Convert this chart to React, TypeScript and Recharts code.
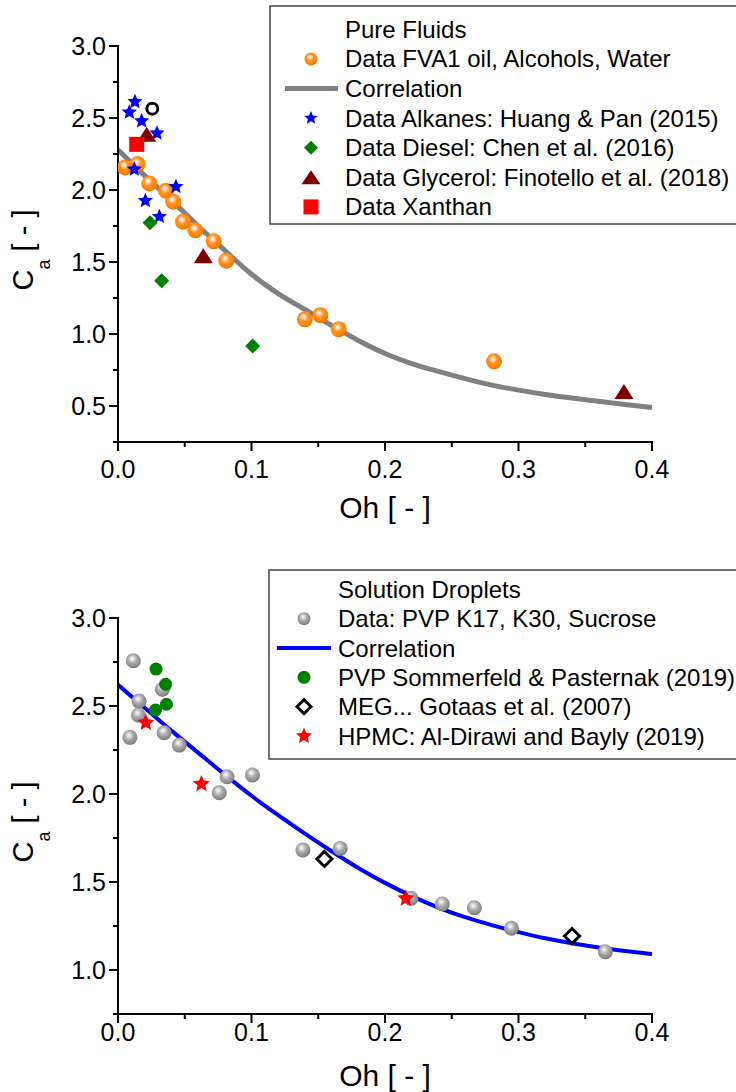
import React from 'react';
import { ComposedChart, Scatter, Line, XAxis, YAxis } from 'recharts';

const FONT = '"Liberation Sans", Arial, Helvetica, sans-serif';

// ---------------- Top panel: Pure fluids ----------------
const fvaOh = [0.0052, 0.0147, 0.0235, 0.036, 0.0414, 0.0487, 0.0579, 0.0717, 0.0811, 0.14, 0.1516, 0.1653, 0.2817];
const fvaCa = [2.157, 2.18, 2.046, 1.995, 1.919, 1.78, 1.72, 1.644, 1.509, 1.102, 1.13, 1.033, 0.81];
const alkOh = [0.0127, 0.0085, 0.0177, 0.0292, 0.0122, 0.0434, 0.0205, 0.031];
const alkCa = [2.613, 2.54, 2.479, 2.394, 2.144, 2.023, 1.926, 1.815];
const dieselOh = [0.024, 0.0327, 0.1009];
const dieselCa = [1.773, 1.37, 0.917];
const glyOh = [0.0215, 0.0639, 0.379];
const glyCa = [2.387, 1.544, 0.6];
const xanOh = [0.014];
const xanCa = [2.317];
const otherOh = [0.0257];
const otherCa = [2.565];
const corrTopOh = [0, 0.02, 0.04, 0.06, 0.08, 0.1, 0.12, 0.14, 0.16, 0.18, 0.2, 0.22, 0.24, 0.26, 0.28, 0.3, 0.32, 0.34, 0.36, 0.38, 0.4];
const corrTopCa = [2.28, 2.1, 1.93, 1.75, 1.58, 1.415, 1.28, 1.17, 1.06, 0.955, 0.865, 0.795, 0.74, 0.69, 0.645, 0.61, 0.58, 0.555, 0.533, 0.51, 0.49];

// ---------------- Bottom panel: Solution droplets ----------------
const pvpOh = [0.0115, 0.0332, 0.0158, 0.0153, 0.0089, 0.0345, 0.0459, 0.0817, 0.0758, 0.1007, 0.1385, 0.1664, 0.2194, 0.2429, 0.2669, 0.2947, 0.365];
const pvpCa = [2.757, 2.595, 2.528, 2.449, 2.322, 2.348, 2.278, 2.098, 2.007, 2.108, 1.682, 1.691, 1.407, 1.375, 1.354, 1.237, 1.104];
const sommOh = [0.0285, 0.0357, 0.0363, 0.0281];
const sommCa = [2.71, 2.623, 2.51, 2.477];
const megOh = [0.1546, 0.3401];
const megCa = [1.631, 1.193];
const hpmcOh = [0.0209, 0.0625, 0.2156];
const hpmcCa = [2.405, 2.057, 1.407];
const corrBotOh = [0, 0.02, 0.04, 0.06, 0.08, 0.1, 0.12, 0.14, 0.16, 0.18, 0.2, 0.22, 0.24, 0.26, 0.28, 0.3, 0.32, 0.34, 0.36, 0.38, 0.4];
const corrBotCa = [2.62, 2.49, 2.36, 2.235, 2.11, 1.99, 1.88, 1.775, 1.675, 1.58, 1.495, 1.42, 1.355, 1.3, 1.255, 1.215, 1.18, 1.152, 1.128, 1.108, 1.09];

// ---------------- Ticks and labels ----------------
const xTicks = [0, 0.05, 0.1, 0.15, 0.2, 0.25, 0.3, 0.35, 0.4];
const xMajor = [0, 0.1, 0.2, 0.3, 0.4];
const topYTicks = [0.25, 0.5, 0.75, 1.0, 1.25, 1.5, 1.75, 2.0, 2.25, 2.5, 2.75, 3.0];
const topYMajor = [0.5, 1.0, 1.5, 2.0, 2.5, 3.0];
const botYTicks = [0.75, 1.0, 1.25, 1.5, 1.75, 2.0, 2.25, 2.5, 2.75, 3.0];
const botYMajor = [1.0, 1.5, 2.0, 2.5, 3.0];
const topLegendLabels = ['Pure Fluids', 'Data FVA1 oil, Alcohols, Water', 'Correlation', 'Data Alkanes: Huang & Pan (2015)', 'Data Diesel: Chen et al. (2016)', 'Data Glycerol: Finotello et al. (2018)', 'Data Xanthan'];
const botLegendLabels = ['Solution Droplets', 'Data: PVP K17, K30, Sucrose', 'Correlation', 'PVP Sommerfeld & Pasternak (2019)', 'MEG... Gotaas et al. (2007)', 'HPMC: Al-Dirawi and Bayly (2019)'];
const xTitle = 'Oh [ - ]';

const zip = (xs: number[], ys: number[]) => xs.map((x, i) => ({ x, y: ys[i] }));
const isIn = (v: number, arr: number[]) => arr.some((m) => Math.abs(m - v) < 1e-9);

// ---------------- Marker shapes ----------------
const starPoints = (cx: number, cy: number, R: number) => {
  const r = R * 0.46;
  const pts: string[] = [];
  for (let i = 0; i < 10; i++) {
    const rad = i % 2 === 0 ? R : r;
    const a = -Math.PI / 2 + (i * Math.PI) / 5;
    pts.push(`${cx + rad * Math.cos(a)},${cy + rad * Math.sin(a)}`);
  }
  return pts.join(' ');
};
const Ball = ({ cx, cy, r, grad }: any) => <circle cx={cx} cy={cy} r={r} fill={`url(#${grad})`} />;
const Star = ({ cx, cy, R, fill }: any) => <polygon points={starPoints(cx, cy, R)} fill={fill} />;
const Diamond = ({ cx, cy, h, fill, stroke, sw }: any) => (
  <polygon points={`${cx},${cy - h} ${cx + h},${cy} ${cx},${cy + h} ${cx - h},${cy}`} fill={fill} stroke={stroke || 'none'} strokeWidth={sw || 0} strokeLinejoin="miter" />
);
const Tri = ({ cx, cy, w, h, fill }: any) => (
  <polygon points={`${cx},${cy - h / 2} ${cx + w / 2},${cy + h / 2} ${cx - w / 2},${cy + h / 2}`} fill={fill} />
);
const Square = ({ cx, cy, s, fill }: any) => <rect x={cx - s / 2} y={cy - s / 2} width={s} height={s} fill={fill} />;

// ---------------- Axis ticks ----------------
const tickText = { fontSize: 25, fontFamily: FONT, fill: '#000' };
const makeBottomTick = (labelDy: number) => (p: any) => {
  const v = p.payload.value;
  const major = isIn(v, xMajor);
  return (
    <g>
      <line x1={p.x} x2={p.x} y1={p.y} y2={p.y + (major ? 9 : 5)} stroke="#000" strokeWidth={2} />
      {major && (
        <text x={p.x} y={p.y + labelDy} textAnchor="middle" {...tickText}>
          {v.toFixed(1)}
        </text>
      )}
    </g>
  );
};
const topTick = (p: any) => (
  <line x1={p.x} x2={p.x} y1={p.y} y2={p.y + 7} stroke="#000" strokeWidth={2} />
);
const makeLeftTick = (majors: number[]) => (p: any) => {
  const v = p.payload.value;
  const major = isIn(v, majors);
  return (
    <g>
      <line x1={p.x - (major ? 9 : 5)} x2={p.x} y1={p.y} y2={p.y} stroke="#000" strokeWidth={2} />
      {major && (
        <text x={p.x - 12} y={p.y + 9} textAnchor="end" {...tickText}>
          {v.toFixed(1)}
        </text>
      )}
    </g>
  );
};
const rightTick = (p: any) => (
  <line x1={p.x - 7} x2={p.x} y1={p.y} y2={p.y} stroke="#000" strokeWidth={2} />
);

const XTitle = (props: any) => {
  const vb = props.viewBox || {};
  return (
    <text x={vb.x + vb.width / 2} y={vb.y + props.titleDy} textAnchor="middle" fontSize={30} fontFamily={FONT} fill="#000">
      {xTitle}
    </text>
  );
};
const YTitle = (props: any) => {
  const vb = props.viewBox || {};
  const cx = 33;
  const cy = vb.y + vb.height / 2 + 6;
  return (
    <text x={cx} y={cy} transform={`rotate(-90, ${cx}, ${cy})`} textAnchor="middle" fontSize={29} fontFamily={FONT} fill="#000">
      C
      <tspan dy={17} fontSize={18}>a</tspan>
      <tspan dy={-17}> [ - ]</tspan>
    </text>
  );
};

const axisLine = { stroke: '#000', strokeWidth: 2, strokeLinecap: 'square' as const };

const Frame = ({ yTicks, yMajor, yDomain, xHeight, labelDy, titleDy }: any) => [
  <XAxis key="xb" xAxisId="b" type="number" dataKey="x" domain={[0, 0.4]} allowDataOverflow ticks={xTicks} interval={0}
    orientation="bottom" height={xHeight} tickSize={0} tickMargin={0} tickLine={false} axisLine={axisLine}
    tick={makeBottomTick(labelDy)} label={<XTitle titleDy={titleDy} />} />,
  <XAxis key="xt" xAxisId="t" type="number" dataKey="x" domain={[0, 0.4]} allowDataOverflow ticks={xTicks} interval={0}
    orientation="top" height={0} tickSize={0} tickMargin={0} tickLine={false} axisLine={axisLine} tick={topTick} />,
  <YAxis key="yl" yAxisId="l" type="number" dataKey="y" domain={yDomain} allowDataOverflow ticks={yTicks} interval={0}
    orientation="left" width={118} tickSize={0} tickMargin={0} tickLine={false} axisLine={axisLine} tick={makeLeftTick(yMajor)} label={<YTitle />} />,
  <YAxis key="yr" yAxisId="r" type="number" dataKey="y" domain={yDomain} allowDataOverflow ticks={yTicks} interval={0}
    orientation="right" width={0} tickSize={0} tickMargin={0} tickLine={false} axisLine={axisLine} tick={rightTick} />,
];

const common = { xAxisId: 'b', yAxisId: 'l', isAnimationActive: false };

const TopChart = () => (
  <ComposedChart width={736} height={546} margin={{ top: 46, right: 84, bottom: 0, left: 0 }}>
    {Frame({ yTicks: topYTicks, yMajor: topYMajor, yDomain: [0.25, 3], xHeight: 104, labelDy: 36, titleDy: 76 })}
    <Line {...common} data={zip(corrTopOh, corrTopCa)} dataKey="y" type="monotone" stroke="#808080" strokeWidth={5} dot={false} />
    <Scatter {...common} data={zip(fvaOh, fvaCa)} dataKey="y" shape={(p: any) => <Ball cx={p.cx} cy={p.cy} r={8} grad="gOrange" />} />
    <Scatter {...common} data={zip(alkOh, alkCa)} dataKey="y" shape={(p: any) => <Star cx={p.cx} cy={p.cy} R={8} fill="#0000ff" />} />
    <Scatter {...common} data={zip(dieselOh, dieselCa)} dataKey="y" shape={(p: any) => <Diamond cx={p.cx} cy={p.cy} h={7.5} fill="#008000" />} />
    <Scatter {...common} data={zip(glyOh, glyCa)} dataKey="y" shape={(p: any) => <Tri cx={p.cx} cy={p.cy} w={19} h={15} fill="#800000" />} />
    <Scatter {...common} data={zip(xanOh, xanCa)} dataKey="y" shape={(p: any) => <Square cx={p.cx} cy={p.cy} s={15} fill="#ff0000" />} />
    <Scatter {...common} data={zip(otherOh, otherCa)} dataKey="y" shape={(p: any) => <circle cx={p.cx} cy={p.cy} r={5.5} fill="none" stroke="#000" strokeWidth={3} />} />
  </ComposedChart>
);

const BottomChart = () => (
  <ComposedChart width={736} height={546} margin={{ top: 72, right: 84, bottom: 0, left: 0 }}>
    {Frame({ yTicks: botYTicks, yMajor: botYMajor, yDomain: [0.75, 3], xHeight: 78, labelDy: 27, titleDy: 72 })}
    <Scatter {...common} data={zip(pvpOh, pvpCa)} dataKey="y" shape={(p: any) => <Ball cx={p.cx} cy={p.cy} r={7.5} grad="gGray" />} />
    <Line {...common} data={zip(corrBotOh, corrBotCa)} dataKey="y" type="monotone" stroke="#0000ff" strokeWidth={4} dot={false} />
    <Scatter {...common} data={zip(sommOh, sommCa)} dataKey="y" shape={(p: any) => <circle cx={p.cx} cy={p.cy} r={6.5} fill="#008000" />} />
    <Scatter {...common} data={zip(megOh, megCa)} dataKey="y" shape={(p: any) => <Diamond cx={p.cx} cy={p.cy} h={7.5} fill="#fff" stroke="#000" sw={3} />} />
    <Scatter {...common} data={zip(hpmcOh, hpmcCa)} dataKey="y" shape={(p: any) => <Star cx={p.cx} cy={p.cy} R={9} fill="#ff0000" />} />
  </ComposedChart>
);

const legendSymbol = (kind: string, cx: number, cy: number, x1: number, x2: number) => {
  switch (kind) {
    case 'orange': return <Ball cx={cx} cy={cy} r={6.5} grad="gOrange" />;
    case 'gray': return <Ball cx={cx} cy={cy} r={6.5} grad="gGray" />;
    case 'lineGray': return <line x1={x1} x2={x2} y1={cy} y2={cy} stroke="#808080" strokeWidth={5} />;
    case 'lineBlue': return <line x1={x1} x2={x2} y1={cy} y2={cy} stroke="#0000ff" strokeWidth={4} />;
    case 'blueStar': return <Star cx={cx} cy={cy} R={7} fill="#0000ff" />;
    case 'redStar': return <Star cx={cx} cy={cy} R={8.5} fill="#ff0000" />;
    case 'greenDiamond': return <Diamond cx={cx} cy={cy} h={7} fill="#008000" />;
    case 'openDiamond': return <Diamond cx={cx} cy={cy} h={7} fill="#fff" stroke="#000" sw={3} />;
    case 'tri': return <Tri cx={cx} cy={cy} w={19} h={14} fill="#800000" />;
    case 'square': return <Square cx={cx} cy={cy} s={15} fill="#ff0000" />;
    case 'greenDot': return <circle cx={cx} cy={cy} r={6.5} fill="#008000" />;
    default: return null;
  }
};

const LegendBox = ({ x, y, w, h, labels, kinds, textX, symX, lx1, lx2, row0, step }: any) => (
  <g>
    <rect x={x} y={y} width={w} height={h} fill="#fff" stroke="#444" strokeWidth={1.5} />
    {labels.map((lab: string, i: number) => {
      const cy = row0 + i * step;
      return (
        <g key={i}>
          {legendSymbol(kinds[i], symX, cy, lx1, lx2)}
          <text x={textX} y={cy + 8.5} fontSize={24} fontFamily={FONT} fill="#000">{lab}</text>
        </g>
      );
    })}
  </g>
);

export default function App() {
  return (
    <div style={{ position: 'absolute', left: 0, top: 0, width: 736, height: 1092, overflow: 'hidden', background: '#fff' }}>
      <svg width={0} height={0} style={{ position: 'absolute' }}>
        <defs>
          <radialGradient id="gOrange" cx="0.45" cy="0.4" r="0.6" fx="0.42" fy="0.35">
            <stop offset="0" stopColor="#ffffff" />
            <stop offset="0.18" stopColor="#ffd9b0" />
            <stop offset="0.45" stopColor="#ff9326" />
            <stop offset="0.85" stopColor="#ff8000" />
            <stop offset="1" stopColor="#e67000" />
          </radialGradient>
          <radialGradient id="gGray" cx="0.45" cy="0.4" r="0.6" fx="0.42" fy="0.35">
            <stop offset="0" stopColor="#ffffff" />
            <stop offset="0.18" stopColor="#e0e0e0" />
            <stop offset="0.5" stopColor="#a8a8a8" />
            <stop offset="0.85" stopColor="#8c8c8c" />
            <stop offset="1" stopColor="#707070" />
          </radialGradient>
        </defs>
      </svg>
      <div style={{ position: 'absolute', left: 0, top: 0 }}>
        <TopChart />
      </div>
      <div style={{ position: 'absolute', left: 0, top: 546 }}>
        <BottomChart />
      </div>
      <svg width={736} height={1092} style={{ position: 'absolute', left: 0, top: 0, pointerEvents: 'none' }}>
        <LegendBox x={270} y={6} w={480} h={218} labels={topLegendLabels}
          kinds={['none', 'orange', 'lineGray', 'blueStar', 'greenDiamond', 'tri', 'square']}
          textX={345} symX={311} lx1={285} lx2={338} row0={29.3} step={29.6} />
        <LegendBox x={269} y={570} w={480} h={189} labels={botLegendLabels}
          kinds={['none', 'gray', 'lineBlue', 'greenDot', 'openDiamond', 'redStar']}
          textX={338} symX={304} lx1={277} lx2={331} row0={589.3} step={29.35} />
      </svg>
    </div>
  );
}
